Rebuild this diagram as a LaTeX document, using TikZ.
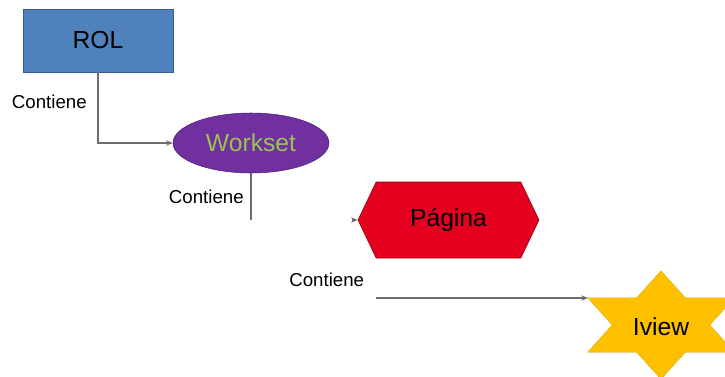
\documentclass[tikz,border=0pt]{standalone}
\usepackage{fontspec}
\setmainfont{Liberation Sans}
\usetikzlibrary{arrows.meta,shapes.geometric,shapes.symbols}

\definecolor{rolblue}{RGB}{79,129,189}
\definecolor{rolline}{RGB}{56,93,138}
\definecolor{wspurple}{RGB}{112,48,160}
\definecolor{wsline}{RGB}{80,30,120}
\definecolor{wstext}{RGB}{155,195,80}
\definecolor{pagred}{RGB}{228,0,30}
\definecolor{pagline}{RGB}{140,0,20}
\definecolor{ivyellow}{RGB}{255,192,0}
\definecolor{ivline}{RGB}{205,150,0}
\definecolor{conngray}{RGB}{110,110,110}

\tikzset{
	big/.style={font=\fontsize{18.5}{22}\selectfont},
	lbl/.style={font=\fontsize{14}{16}\selectfont, inner sep=2pt},
	conn/.style={draw=conngray, line width=1pt},
	tip/.style={-{Stealth[length=5pt,width=4pt]}}
}

\begin{document}
\begin{tikzpicture}[x=0.75pt,y=-0.75pt]
			%\draw [help lines] (0,0) grid (725,376);
			\useasboundingbox (0,0) rectangle (725,376);
			\node [big, rectangle, fill=rolblue, draw=rolline, minimum width=112.5pt, minimum height=47.25pt] (rol) at (98,40.5) {ROL};
			\node [big, ellipse, fill=wspurple, draw=wsline, text=wstext, minimum width=117pt, minimum height=45pt] (ws) at (251,143) {Workset};
			\node [big, signal, signal to=west and east, signal pointer angle=129, fill=pagred, draw=pagline, minimum width=135.75pt, minimum height=57pt] (pag) at (448.5,220) {P\'agina};
			% star of two triangles, filled again to hide the inner edges
			\filldraw [fill=ivyellow, draw=ivline] (661,271) -- (588,352) -- (734,352) -- cycle;
			\filldraw [fill=ivyellow, draw=ivline] (661,379) -- (588,298) -- (734,298) -- cycle;
			\fill [ivyellow] (661,271) -- (588,352) -- (734,352) -- cycle;
			\fill [ivyellow] (661,379) -- (588,298) -- (734,298) -- cycle;
			\node [big] (iv) at (661,327) {Iview};
			\coordinate (ivtip) at (588,298);
			% connectors
			\draw [conn, tip] (rol.south) |- (ws.west) node [lbl, pos = 0.21, left, xshift=-6pt] {Contiene};
			\coordinate (wsend) at (ws.south |- pag.west);
			\draw [conn] (ws.south) -- (wsend) node [lbl, pos = 0.5, left, xshift=-3pt] {Contiene};
			\draw [conn, tip] ([xshift=-4pt]pag.west) -- (pag.west);
			\coordinate (pgstart) at (376,298);
			\draw [conn, tip] (pgstart) -- (ivtip);
			\node [lbl, anchor=south east] (pglbl) at (367,290) {Contiene};
	\end{tikzpicture}
\end{document}
